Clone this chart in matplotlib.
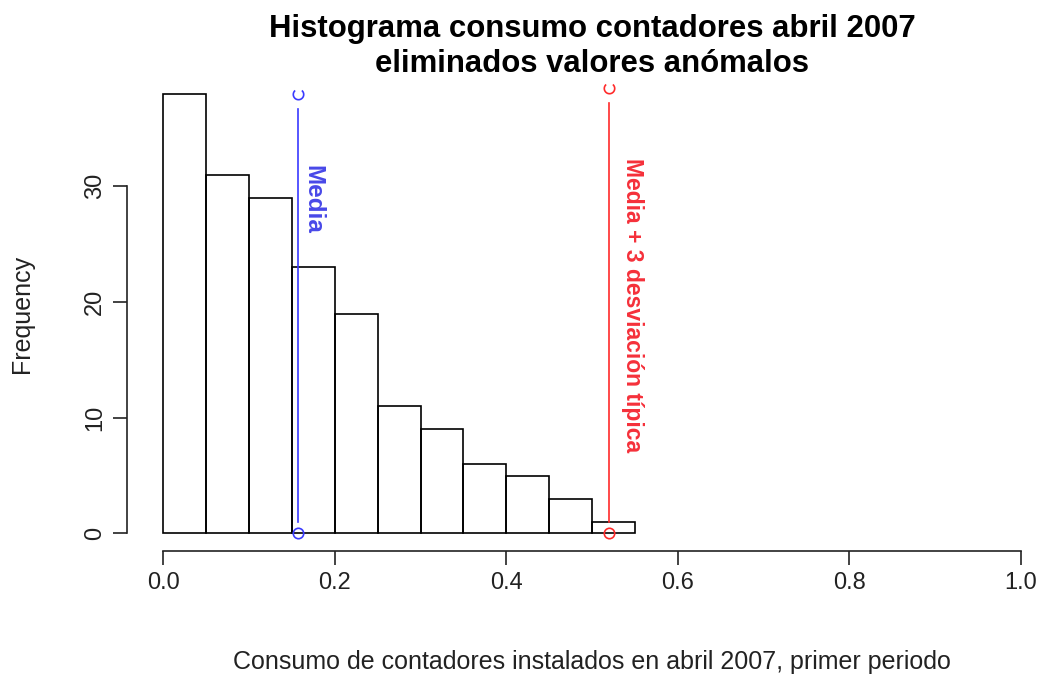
import matplotlib
matplotlib.use("Agg")
import matplotlib.pyplot as plt
import numpy as np
from matplotlib.path import Path

plt.rcParams['font.family'] = ['Liberation Sans', 'DejaVu Sans']

# histograma de consumos (intervalos de 0.05)
bordes = np.arange(0, 0.55 + 0.001, 0.05)
frecuencias = [38, 31, 29, 23, 19, 11, 9, 6, 5, 3, 1]

media = 0.157
media_3sd = 0.52
tope_media = 38
tope_3sd = 38.5

fig = plt.figure(figsize=(10.44, 6.77), dpi=100)
# region del grafico (la derecha queda cortada como en la ventana de R)
ax = fig.add_axes([129 / 1044, 126 / 677, 926 / 1044, 475 / 677])

ax.bar(bordes[:-1], frecuencias, width=0.05, align='edge',
       facecolor='none', edgecolor='black', linewidth=1.2)

# marcador circular abierto por arriba
ang = np.radians(np.linspace(130, 410, 40))
arco = Path(np.column_stack([np.cos(ang), np.sin(ang)]))

def linea_vertical(x, top, color):
    gap_inf, gap_sup = 0.95, 1.3
    ax.plot([x, x], [gap_inf, top - gap_sup], color=color, lw=1.2)
    ax.plot([x], [0], marker='o', ms=7.5, mfc='none', mec=color, mew=1.2)
    ax.plot([x], [top], marker=arco, ms=7.5, mfc='none', mec=color, mew=1.2,
            clip_on=False)

linea_vertical(media, tope_media, '#3a3aff')
linea_vertical(media_3sd, tope_3sd, '#ff2a2a')

ax.text(0.174, 31.8, 'Media', rotation=-90, ha='center', va='top',
        color='#4848e8', fontsize=17.5, fontweight='bold')
ax.text(0.547, 32.4, 'Media + 3 desviación típica', rotation=-90,
        ha='center', va='top', color='#f5303a', fontsize=16.5,
        fontweight='bold')

ax.set_xlim(-0.04, 1.04)
ax.set_ylim(-1.52, 39.52)

for s in ['top', 'right']:
    ax.spines[s].set_visible(False)
ax.spines['left'].set_bounds(0, 30)
ax.spines['bottom'].set_bounds(0, 1)
ax.spines['left'].set_position(('outward', 1.5))
for s in ['left', 'bottom']:
    ax.spines[s].set_linewidth(1.2)
    ax.spines[s].set_color('#222222')

ax.set_xticks(np.arange(0, 1.01, 0.2))
ax.set_xticklabels(['0.0', '0.2', '0.4', '0.6', '0.8', '1.0'])
ax.set_yticks([0, 10, 20, 30])
ax.tick_params(axis='both', length=10, width=1.2, color='#222222',
               labelsize=17, labelcolor='#222222', pad=5)
for lab in ax.get_yticklabels():
    lab.set_rotation(90)
    lab.set_va('center')

ax.set_xlabel('Consumo de contadores instalados en abril 2007, primer periodo',
              fontsize=18, color='#222222', va='center')
ax.xaxis.set_label_coords(0.5, (551 - 662) / 475)
ax.set_ylabel('Frequency', fontsize=18, color='#222222', va='center')
ax.yaxis.set_label_coords((22 - 129) / 926, 0.5)

fig.text(592 / 1044, 1 - 46.5 / 677,
         'Histograma consumo contadores abril 2007\neliminados valores anómalos',
         ha='center', va='center', fontsize=22.4, fontweight='bold')

fig.savefig('out.png', dpi=100)
